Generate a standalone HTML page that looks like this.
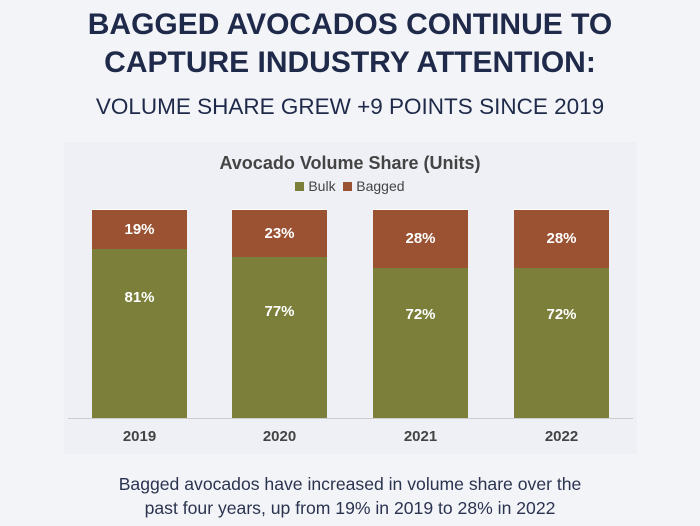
<!DOCTYPE html>
<html><head><style>
body{margin:0;width:700px;height:526px;background:#f3f4f7;font-family:"Liberation Sans",sans-serif;position:relative;overflow:hidden}
.t{position:absolute;left:0;width:700px;text-align:center;color:#1f2a4a}
.panel{position:absolute;left:64px;top:142px;width:573px;height:312px;background:#eef0f5}
.bar{position:absolute;width:95px;top:209px}
.bg{background:#9a5232;color:#fff;font-weight:bold;font-size:15px;text-align:center;box-sizing:border-box;border-top:1px solid #fff}
.bk{background:#7b7f3a;color:#fff;font-weight:bold;font-size:15px;text-align:center}
.yr{position:absolute;top:428px;width:95px;text-align:center;font-weight:bold;color:#444;font-size:15px}
</style></head><body>
<div class="t" style="top:6px;font-size:30px;font-weight:bold;line-height:38px">BAGGED AVOCADOS CONTINUE TO<br>CAPTURE INDUSTRY ATTENTION:</div>
<div class="t" style="top:94px;font-size:22.5px;line-height:26px">VOLUME SHARE GREW +9 POINTS SINCE 2019</div>
<div class="panel"></div>
<div class="t" style="top:153px;font-size:18px;font-weight:bold;color:#444">Avocado Volume Share (Units)</div>
<div class="t" style="top:178px;font-size:14px;color:#444"><span style="display:inline-block;width:9px;height:9px;background:#7b7f3a"></span> Bulk &nbsp;<span style="display:inline-block;width:9px;height:9px;background:#9a5232"></span> Bagged</div>
<div style="position:absolute;left:68px;top:418px;width:565px;height:1px;background:#ccc"></div>

<div class="bar" style="left:92px"><div class="bg" style="height:40px;padding-top:11px">19%</div><div class="bk" style="height:169px;padding-top:40px;box-sizing:border-box">81%</div></div>
<div class="bar" style="left:232px"><div class="bg" style="height:48px;padding-top:15px">23%</div><div class="bk" style="height:161px;padding-top:46px;box-sizing:border-box">77%</div></div>
<div class="bar" style="left:373px"><div class="bg" style="height:59px;padding-top:20px">28%</div><div class="bk" style="height:150px;padding-top:38px;box-sizing:border-box">72%</div></div>
<div class="bar" style="left:514px"><div class="bg" style="height:59px;padding-top:20px">28%</div><div class="bk" style="height:150px;padding-top:38px;box-sizing:border-box">72%</div></div>

<div class="yr" style="left:92px">2019</div>
<div class="yr" style="left:232px">2020</div>
<div class="yr" style="left:373px">2021</div>
<div class="yr" style="left:514px">2022</div>

<div class="t" style="top:472px;font-size:17.6px;line-height:24px;color:#2a3350">Bagged avocados have increased in volume share over the<br>past four years, up from 19% in 2019 to 28% in 2022</div>
</body></html>
